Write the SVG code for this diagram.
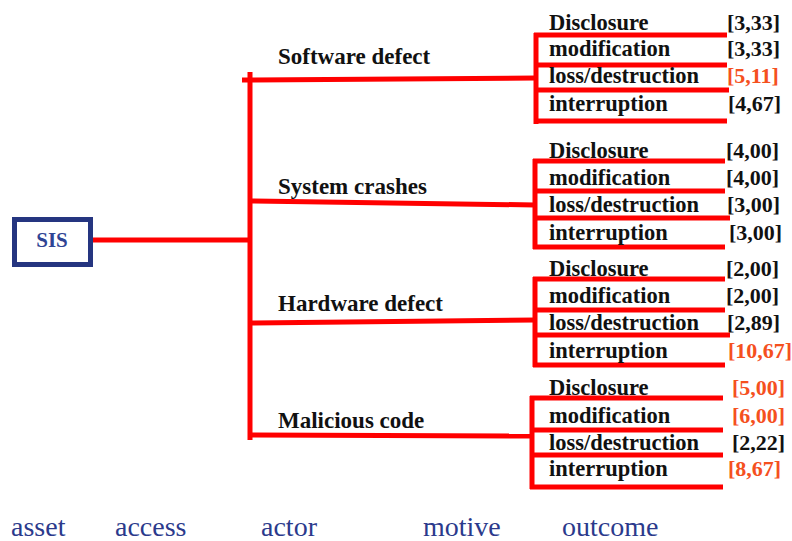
<svg xmlns="http://www.w3.org/2000/svg" width="792" height="541" viewBox="0 0 792 541">
  <style>
    .wire { stroke: #ff0000; stroke-width: 5; fill: none; }
    text { font-family: "Liberation Serif", serif; }
    .actor { font-weight: bold; font-size: 23px; fill: #111111; }
    .item { font-weight: bold; font-size: 22.5px; fill: #111111; }
    .val { font-weight: bold; font-size: 22px; fill: #111111; }
    .hot { fill: #f5501e; }
    .axis { font-size: 28px; fill: #2b3a8c; }
  </style>
  <rect width="792" height="541" fill="#ffffff"/>

  <!-- connectors: asset -> access bar -> actors -> outcome brackets -->
  <g id="connectors">
    <line class="wire" x1="92" y1="240" x2="248" y2="240"/>
    <line class="wire" x1="250" y1="72" x2="250" y2="440"/>
    <line class="wire" x1="242" y1="80" x2="250" y2="80"/>
    <line class="wire" x1="250" y1="80" x2="536" y2="78"/>
    <line class="wire" x1="250" y1="201" x2="535" y2="205"/>
    <line class="wire" x1="250" y1="323" x2="535" y2="320"/>
    <line class="wire" x1="250" y1="435" x2="532" y2="436"/>
  </g>

  <!-- asset node -->
  <g id="sis">
    <rect x="14.5" y="219.5" width="76" height="45" fill="#ffffff" stroke="#253580" stroke-width="5"/>
    <text x="52" y="247" text-anchor="middle" font-weight="bold" font-size="21" fill="#2f4494">SIS</text>
  </g>

  <!-- actors -->
  <g id="actor-software"><text class="actor" x="278" y="64">Software defect</text></g>
  <g id="actor-system"><text class="actor" x="278" y="194">System crashes</text></g>
  <g id="actor-hardware"><text class="actor" x="278" y="311">Hardware defect</text></g>
  <g id="actor-malicious"><text class="actor" x="278" y="428">Malicious code</text></g>

  <!-- outcome bracket: software defect -->
  <g id="outcome-software">
    <path class="wire" d="M536 33 V124 M534 35 H727 M534 65 H727 M534 90 H729 M534 121 H727"/>
    <text class="item" x="549" y="30">Disclosure</text>
    <text class="item" x="549" y="56">modification</text>
    <text class="item" x="549" y="83">loss/destruction</text>
    <text class="item" x="549" y="111">interruption</text>
    <text class="val" x="727" y="30">[3,33]</text>
    <text class="val" x="727" y="56">[3,33]</text>
    <text class="val hot" x="727" y="83">[5,11]</text>
    <text class="val" x="728" y="111">[4,67]</text>
  </g>

  <!-- outcome bracket: system crashes -->
  <g id="outcome-system">
    <path class="wire" d="M535 159 V249 M533 161 H725 M533 191 H725 M533 218 H730 M533 247 H725"/>
    <text class="item" x="549" y="158">Disclosure</text>
    <text class="item" x="549" y="185">modification</text>
    <text class="item" x="549" y="212">loss/destruction</text>
    <text class="item" x="549" y="240">interruption</text>
    <text class="val" x="726" y="158">[4,00]</text>
    <text class="val" x="726" y="185">[4,00]</text>
    <text class="val" x="727" y="212">[3,00]</text>
    <text class="val" x="729" y="240">[3,00]</text>
  </g>

  <!-- outcome bracket: hardware defect -->
  <g id="outcome-hardware">
    <path class="wire" d="M535 277 V367 M533 279 H725 M533 310 H725 M533 335 H730 M533 365 H725"/>
    <text class="item" x="549" y="276">Disclosure</text>
    <text class="item" x="549" y="303">modification</text>
    <text class="item" x="549" y="330">loss/destruction</text>
    <text class="item" x="549" y="358">interruption</text>
    <text class="val" x="726" y="276">[2,00]</text>
    <text class="val" x="726" y="303">[2,00]</text>
    <text class="val" x="727" y="330">[2,89]</text>
    <text class="val hot" x="728" y="358">[10,67]</text>
  </g>

  <!-- outcome bracket: malicious code -->
  <g id="outcome-malicious">
    <path class="wire" d="M532 396 V489 M530 398 H723 M530 430 H723 M530 455 H723 M530 487 H723"/>
    <text class="item" x="549" y="395">Disclosure</text>
    <text class="item" x="549" y="423">modification</text>
    <text class="item" x="549" y="450">loss/destruction</text>
    <text class="item" x="549" y="476">interruption</text>
    <text class="val hot" x="732" y="395">[5,00]</text>
    <text class="val hot" x="732" y="423">[6,00]</text>
    <text class="val" x="732" y="450">[2,22]</text>
    <text class="val hot" x="728" y="476">[8,67]</text>
  </g>

  <!-- stage captions -->
  <g id="captions">
    <text class="axis" x="11" y="536">asset</text>
    <text class="axis" x="115" y="536">access</text>
    <text class="axis" x="261" y="536">actor</text>
    <text class="axis" x="423" y="536">motive</text>
    <text class="axis" x="562" y="536">outcome</text>
  </g>
</svg>
